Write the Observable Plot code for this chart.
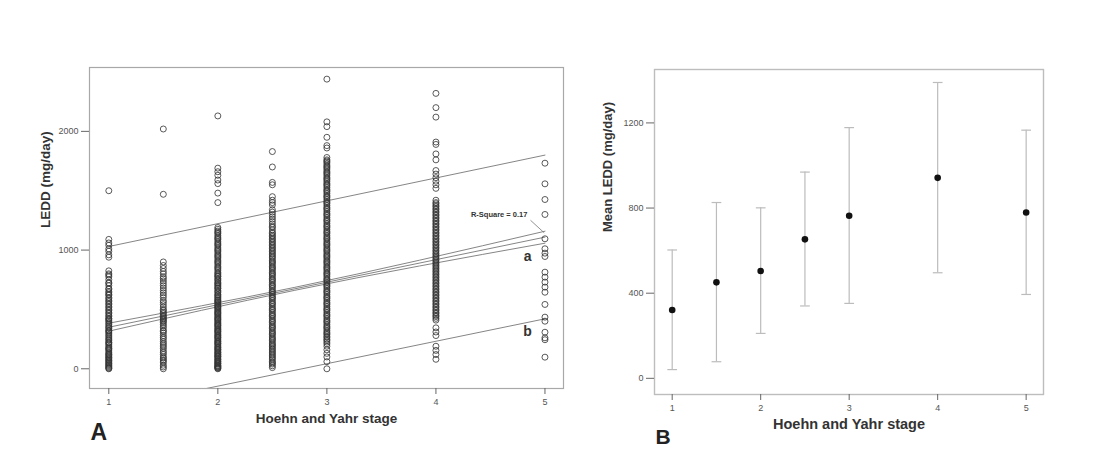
<!DOCTYPE html>
<html>
<head>
<meta charset="utf-8">
<script src="https://cdn.jsdelivr.net/npm/d3@7"></script>
<script src="https://cdn.jsdelivr.net/npm/@observablehq/plot@0.6"></script>
<style>
  html, body { margin: 0; padding: 0; background: #ffffff; }
  #wrap { position: relative; width: 1094px; height: 450px; font-family: "Liberation Sans", Arial, sans-serif; }
  #pa { position: absolute; left: 0; top: 0; }
  #pb { position: absolute; left: 590px; top: 0; }
</style>
</head>
<body>
<div id="wrap"><div id="pa"></div><div id="pb"></div></div>
<script>
// ---------- Panel A: individual LEDD values per Hoehn and Yahr stage ----------
const stageA = [1, 1.5, 2, 2.5, 3, 4, 5];
const ledd_1 = [0,5,12,20,28,35,45,50,60,70,75,85,95,100,110,120,125,135,150,160,170,175,185,200,210,220,225,240,250,260,275,285,300,310,320,325,340,350,360,375,385,400,410,420,425,440,450,465,475,490,500,515,525,540,550,565,575,590,600,620,625,640,650,670,675,700,720,725,750,775,790,800,825,940,960,990,1010,1040,1060,1090,1500];
const ledd_15 = [0,15,30,50,65,75,90,100,120,135,150,170,185,200,215,230,250,265,280,300,315,325,345,360,375,390,400,410,420,430,440,450,465,475,490,500,520,540,560,575,600,620,640,660,680,700,720,740,760,775,800,820,845,870,900,1470,2020];
const ledd_2 = [0,5,10,15,20,25,30,40,45,50,60,65,75,80,90,100,105,110,120,125,135,140,150,160,165,175,180,190,200,210,215,225,230,240,250,260,265,275,280,290,300,310,315,325,330,340,350,360,365,375,380,390,400,410,415,425,430,440,450,460,465,475,480,490,500,510,515,525,530,540,550,560,565,575,580,590,600,610,620,625,640,650,660,675,680,690,700,710,720,725,740,750,760,775,780,790,800,810,825,840,850,860,875,890,900,910,925,940,950,960,975,990,1000,1010,1025,1040,1050,1060,1075,1090,1100,1110,1125,1140,1150,1160,1175,1190,1400,1480,1560,1590,1630,1660,1690,2130];
const ledd_25 = [10,25,40,50,60,75,90,100,115,125,140,150,165,175,190,200,210,225,240,250,260,275,290,300,310,325,340,350,360,375,390,400,410,425,440,450,460,475,490,500,510,525,540,550,560,575,590,600,610,625,640,650,660,675,690,700,710,725,740,750,760,775,790,800,810,825,840,850,860,875,890,900,910,925,940,950,965,975,990,1000,1015,1025,1040,1050,1065,1075,1090,1100,1115,1125,1140,1150,1170,1190,1200,1220,1240,1260,1280,1300,1320,1340,1380,1400,1420,1450,1550,1570,1700,1830];
const ledd_3 = [0,60,100,130,160,190,210,225,240,250,265,275,290,300,310,325,340,350,360,375,390,400,410,425,440,450,460,475,490,500,510,525,540,550,560,575,590,600,610,625,640,650,660,675,690,700,710,725,740,750,760,775,790,800,810,825,840,850,860,875,890,900,910,925,940,950,960,975,990,1000,1010,1025,1040,1050,1060,1075,1090,1100,1110,1125,1140,1150,1160,1175,1190,1200,1210,1225,1240,1250,1260,1275,1290,1300,1310,1325,1340,1350,1360,1375,1390,1400,1410,1425,1440,1450,1460,1475,1490,1500,1510,1525,1540,1550,1560,1575,1590,1600,1610,1625,1640,1650,1660,1675,1690,1700,1710,1725,1740,1750,1760,1780,1860,1880,1950,2040,2080,2440];
const ledd_4 = [80,120,155,190,280,310,345,410,425,440,450,465,475,490,500,515,525,540,550,565,575,590,600,615,625,640,650,665,675,690,700,715,725,740,750,765,775,790,800,815,825,840,850,865,875,890,900,915,925,940,950,965,975,990,1000,1015,1025,1040,1050,1065,1075,1090,1100,1115,1125,1140,1150,1165,1175,1190,1200,1215,1225,1240,1250,1265,1275,1290,1300,1315,1325,1340,1350,1365,1375,1390,1400,1420,1520,1550,1580,1610,1640,1670,1760,1810,1890,1910,2120,2200,2320];
const ledd_5 = [98,245,261,308,401,435,542,645,688,730,772,814,946,974,1011,1095,1300,1426,1558,1732];
const leddByStage = [ledd_1, ledd_15, ledd_2, ledd_25, ledd_3, ledd_4, ledd_5];

// regression lines (fit, 95% CI of mean, 95% prediction interval)
const fitX = [1, 5], fitY = [350, 1109];
const ciX = [1, 2.7, 5], ciUpperY = [384, 685, 1159], ciLowerY = [317, 660, 1058];
const piX = [1, 5], piUpperY = [1030, 1800], piLowerY = [-335, 421];

// annotation labels
const rsqText = "R-Square = 0.17";
const rsqPos = [4.58, 1300];
const rsqLeaderX = [4.87, 4.99], rsqLeaderY = [1249, 1148];
const labA = ["a", "b"], labAX = [4.84, 4.84], labAY = [946, 314];

// ---------- Panel B: mean LEDD with error bars ----------
const stageB = [1, 1.5, 2, 2.5, 3, 4, 5];
const meanB  = [321, 451, 504, 653, 764, 942, 779];
const lowerB = [41, 78, 211, 340, 352, 496, 394];
const upperB = [603, 826, 801, 969, 1178, 1390, 1166];

const xTicks = [1, 2, 3, 4, 5];
const yTicksA = [0, 1000, 2000];
const yTicksB = [0, 400, 800, 1200];

const FONT = '"Liberation Sans", Arial, Helvetica, sans-serif';
const plain = d => String(d);

// build tables
const pointsA = [];
stageA.forEach((s, i) => leddByStage[i].forEach(v => pointsA.push({stage: s, ledd: v})));
const line = (xs, ys, id) => xs.map((x, i) => ({x, y: ys[i], id}));
const linesA = [
  ...line(fitX, fitY, "fit"),
  ...line(ciX, ciUpperY, "ciu"),
  ...line(ciX, ciLowerY, "cil"),
  ...line(piX, piUpperY, "piu"),
  ...line(piX, piLowerY, "pil")
];
const bRows = stageB.map((s, i) => ({stage: s, mean: meanB[i], lo: lowerB[i], hi: upperB[i]}));

const plotA = Plot.plot({
  width: 590, height: 450,
  marginLeft: 89, marginRight: 27, marginTop: 67, marginBottom: 62,
  style: {fontFamily: FONT, background: "transparent", color: "#555"},
  x: {domain: [0.823, 5.17]},
  y: {domain: [-166, 2538]},
  marks: [
    Plot.frame({stroke: "#a8a8a8", strokeWidth: 1.2}),
    Plot.axisY({ticks: yTicksA, tickFormat: plain, tickSize: 8, tickPadding: 3, label: null, fontSize: 9, stroke: "#666"}),
    Plot.axisX({ticks: xTicks, tickFormat: plain, tickSize: 6, tickPadding: 4, label: null, fontSize: 9, stroke: "#666"}),
    Plot.line(linesA, {x: "x", y: "y", z: "id", stroke: "#777", strokeWidth: 0.9, clip: true, curve: "monotone-x"}),
    Plot.dot(pointsA, {x: "stage", y: "ledd", r: 3, stroke: "#333", strokeWidth: 0.9, fill: "none", strokeOpacity: 0.9}),
    Plot.text([rsqText], {x: rsqPos[0], y: rsqPos[1], fontSize: 7.5, fontWeight: "bold", fill: "#333"}),
    Plot.line(line(rsqLeaderX, rsqLeaderY, "l"), {x: "x", y: "y", stroke: "#777", strokeWidth: 0.8}),
    Plot.text(labA, {x: (d, i) => labAX[i], y: (d, i) => labAY[i], fontSize: 14, fontWeight: "bold", fill: "#333"}),
    Plot.text(["Hoehn and Yahr stage"], {frameAnchor: "bottom", dy: 34, fontSize: 13.5, fontWeight: "bold", fill: "#333"}),
    Plot.text(["LEDD (mg/day)"], {frameAnchor: "left", dx: -44, rotate: -90, fontSize: 13.5, fontWeight: "bold", fill: "#333"}),
    Plot.text(["A"], {frameAnchor: "bottom-left", textAnchor: "start", dx: 1, dy: 51, fontSize: 23, fontWeight: "bold", fill: "#222"})
  ]
});
document.getElementById("pa").appendChild(plotA);

const plotB = Plot.plot({
  width: 504, height: 450,
  marginLeft: 64, marginRight: 51, marginTop: 69, marginBottom: 56,
  style: {fontFamily: FONT, background: "transparent", color: "#555"},
  x: {domain: [0.8, 5.196]},
  y: {domain: [-76, 1451]},
  marks: [
    Plot.frame({stroke: "#bdbdbd", strokeWidth: 1.4}),
    Plot.axisY({ticks: yTicksB, tickFormat: plain, tickSize: 8, tickPadding: 3, label: null, fontSize: 9, stroke: "#666"}),
    Plot.axisX({ticks: xTicks, tickFormat: plain, tickSize: 6, tickPadding: 4, label: null, fontSize: 9, stroke: "#666"}),
    Plot.ruleX(bRows, {x: "stage", y1: "lo", y2: "hi", stroke: "#bcbcbc", strokeWidth: 1.2}),
    Plot.link(bRows, {x1: d => d.stage - 0.055, x2: d => d.stage + 0.055, y1: "hi", y2: "hi", stroke: "#bcbcbc", strokeWidth: 1.2}),
    Plot.link(bRows, {x1: d => d.stage - 0.055, x2: d => d.stage + 0.055, y1: "lo", y2: "lo", stroke: "#bcbcbc", strokeWidth: 1.2}),
    Plot.dot(bRows, {x: "stage", y: "mean", r: 3.3, fill: "#111", stroke: "none"}),
    Plot.text(["Hoehn and Yahr stage"], {frameAnchor: "bottom", dy: 34, fontSize: 14.5, fontWeight: "bold", fill: "#333"}),
    Plot.text(["Mean LEDD (mg/day)"], {frameAnchor: "left", dx: -47, rotate: -90, fontSize: 13, fontWeight: "bold", fill: "#333"}),
    Plot.text(["B"], {frameAnchor: "bottom-left", textAnchor: "start", dx: 1, dy: 49, fontSize: 21, fontWeight: "bold", fill: "#222"})
  ]
});
document.getElementById("pb").appendChild(plotB);
</script>
</body>
</html>
